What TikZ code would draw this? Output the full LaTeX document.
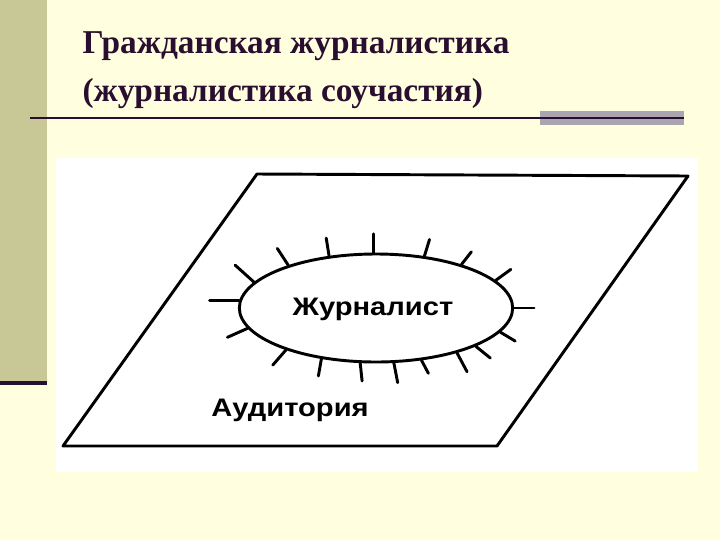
\documentclass[tikz,border=0pt]{standalone}
\usepackage{fontspec}
\setmainfont{Liberation Serif}
\newfontfamily\labelfont{Liberation Sans}
\usetikzlibrary{shapes.geometric, positioning}

\definecolor{paper}{RGB}{255,255,224}
\definecolor{sidebar}{RGB}{200,200,150}
\definecolor{plum}{RGB}{42,14,48}
\definecolor{greybar}{RGB}{169,165,177}

\begin{document}
\begin{tikzpicture}[
      x = 0.75pt, y = -0.75pt,     % one unit = one pixel of the slide
      line join = round,
      thick
    ]

    \tikzstyle{T1}=[      % Defines style for the title lines
      font = \fontsize{25}{30}\selectfont\bfseries,
      text = plum,
      inner sep = 0pt,
      anchor = base west
    ]

    \tikzstyle{L1}=[      % Defines style for the labels
      font = \labelfont\fontsize{19}{22}\selectfont\bfseries,
      xscale = 1.15,
      inner sep = 0pt
    ]

    \tikzstyle{ray}=[     % Defines style for the rays
      line width = 2.2pt,
      line cap = round
    ]

    % Background of the slide
    \fill[paper] (0,0) rectangle (720,540);
    \useasboundingbox (0,0) rectangle (720,540);
    \fill[sidebar] (0,0) rectangle (47,381);
    \fill[plum] (0,381) rectangle (47,385);

    % Definition of the title
    \node[T1] (title1) at (82,53) {Гражданская журналистика};
    \node[T1] (title2) at (82,101) {(журналистика соучастия)};

    % Rule under the title
    \coordinate (ruleL) at (30,118);
    \coordinate (ruleR) at (684,118);
    \fill[greybar] (540,111) rectangle (684,125);
    \draw[plum, line width = 1.5pt] (ruleL) -- (ruleR);

    % The picture itself
    \fill[white] (56,158) rectangle (698,472);

    \coordinate (p1) at (257,174);
    \coordinate (p2) at (688,176);
    \coordinate (p3) at (497,446);
    \coordinate (p4) at (63,446);
    \draw[line width = 2.2pt] (p1) -- (p2) -- (p3) -- (p4) -- cycle;

    \node[ellipse, draw, line width = 2.2pt, minimum width = 205pt,
          minimum height = 81pt, inner sep = 0pt] (jour) at (376,308) {};
    \node[L1] (journalist) at (373,309) {Журналист};
    \node[L1] (audience) at (290,410) {Аудитория};

    % Rays around the ellipse: anchor angle / direction / length
    \foreach \a/\d/\l in {177/180/22, 168/138/19, 154/123/15, 132/99/13.5,
                          93/90/14, 47/73/13, 27/52/12, 13/36/14, 0/0/15,
                          -11/-31/13, -21/-39/14, -29/-62/16, -49/-62/11,
                          -72/-79/15, -106/-84/13.5, -137/-100/13,
                          -155/-131/15, -171/-156/16.5}
      \draw[ray] (jour.\a) -- ++(\d:\l pt);

  \end{tikzpicture}
\end{document}
